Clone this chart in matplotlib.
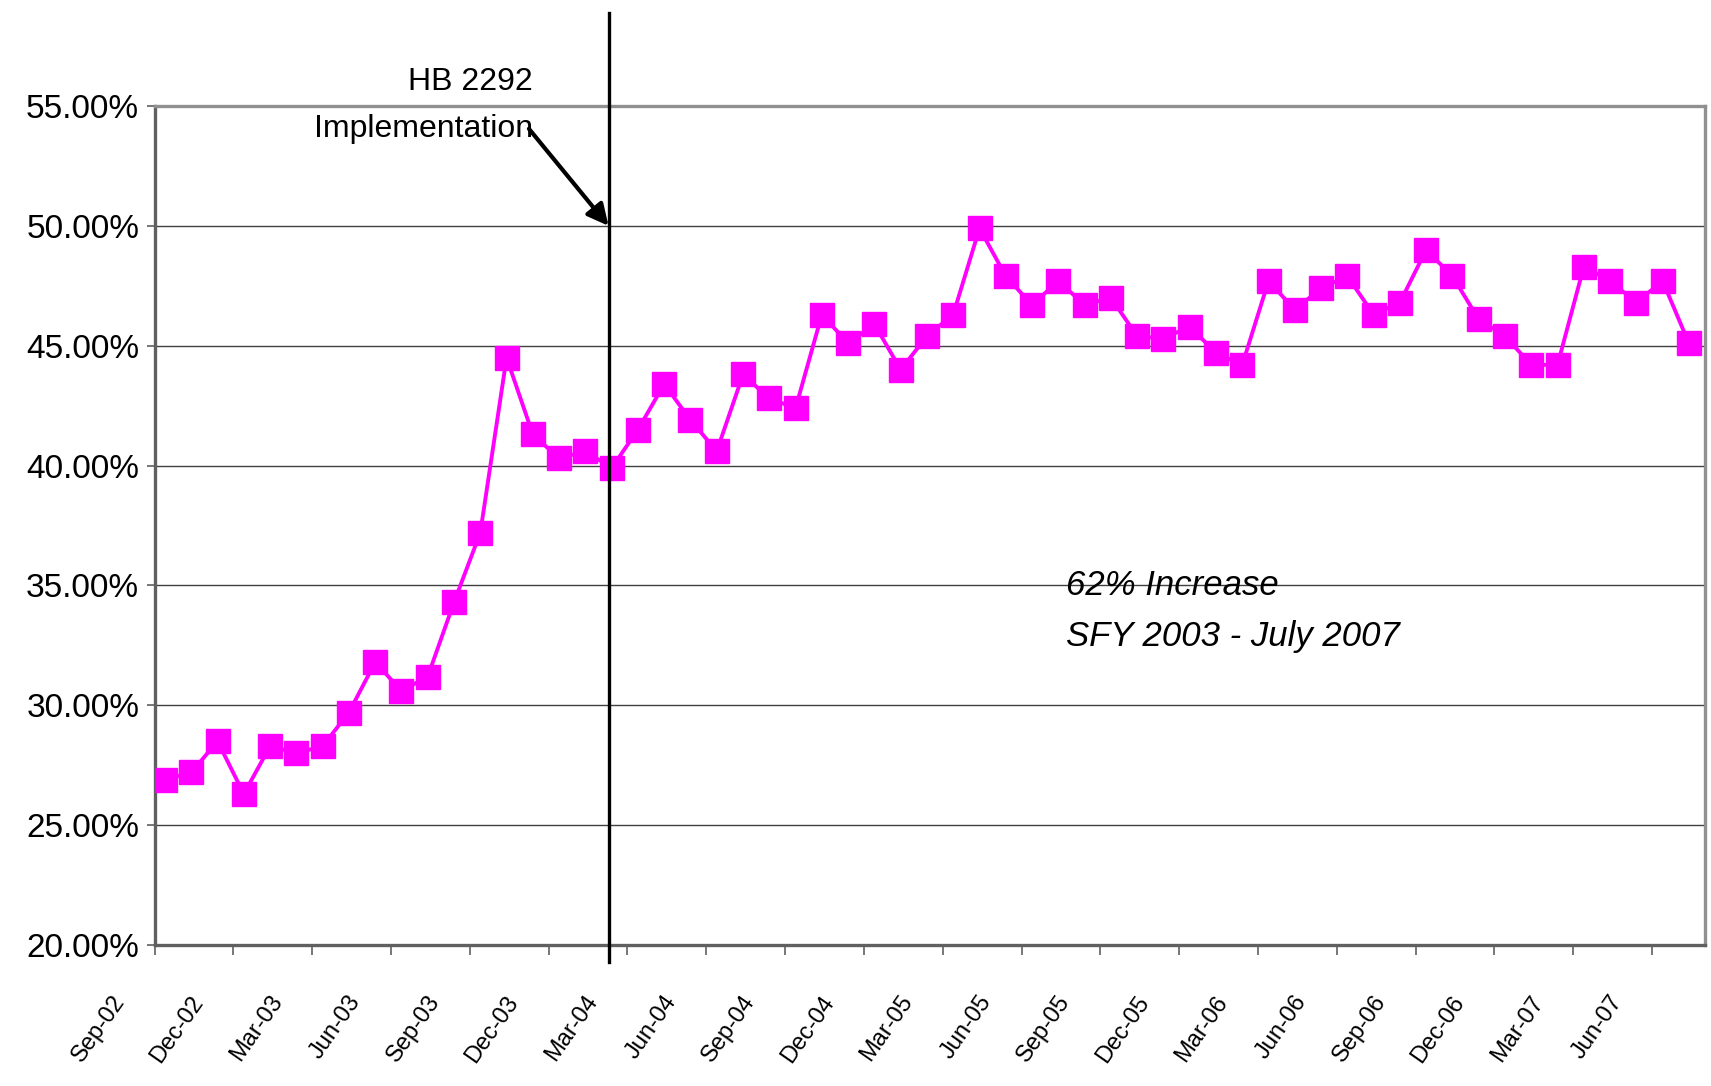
import numpy as np
import matplotlib
matplotlib.use("Agg")
import matplotlib.pyplot as plt
from matplotlib.transforms import ScaledTranslation

plt.rcParams['font.family'] = ['Liberation Sans', 'DejaVu Sans']

# monthly rate, Sep 2002 - Jul 2007 (percent)
rates = [26.9, 27.2, 28.5, 26.3, 28.3, 28.0, 28.3, 29.7, 31.8, 30.6,
         31.2, 34.3, 37.2, 44.5, 41.3, 40.3, 40.6, 39.9, 41.5, 43.4,
         41.9, 40.6, 43.8, 42.8, 42.4, 46.3, 45.1, 45.9, 44.0, 45.4,
         46.3, 49.9, 47.9, 46.7, 47.7, 46.7, 47.0, 45.4, 45.3, 45.8,
         44.7, 44.2, 47.7, 46.5, 47.4, 47.9, 46.3, 46.8, 49.0, 47.9,
         46.1, 45.4, 44.2, 44.2, 48.3, 47.7, 46.8, 47.7, 45.1]

quarter_labels = ['Sep-02', 'Dec-02', 'Mar-03', 'Jun-03', 'Sep-03', 'Dec-03',
                  'Mar-04', 'Jun-04', 'Sep-04', 'Dec-04', 'Mar-05', 'Jun-05',
                  'Sep-05', 'Dec-05', 'Mar-06', 'Jun-06', 'Sep-06', 'Dec-06',
                  'Mar-07', 'Jun-07']

y_ticks = [20, 25, 30, 35, 40, 45, 50, 55]
hb2292_month = 17.88   # position of the HB 2292 line (between Jan-04 and Feb-04)

x = np.arange(1, len(rates) + 1)

fig = plt.figure(figsize=(17.11, 10.86), dpi=100)
ax = fig.add_axes([0.0903, 0.1298, 0.906, 0.7726])

ax.plot(x, rates, color='#FF00FF', lw=2.8, marker='s', markersize=17,
        markerfacecolor='#FF00FF', markeredgecolor='#FF00FF', zorder=3)

ax.set_xlim(0.6, 59.6)
ax.set_ylim(20, 55)

# y axis
ax.set_yticks(y_ticks)
ax.set_yticklabels(['%.2f%%' % v for v in y_ticks], fontsize=24)
ax.tick_params(axis='y', length=6, width=1.2, color='#606060', pad=5)
for v in y_ticks[1:-1]:
    ax.axhline(v, color='#404040', lw=1.0, zorder=1)

# x axis: boundary ticks every 3 months, labels every quarter
ax.set_xticks(np.arange(0.6, 59.0, 3))
ax.set_xticklabels([])
ax.tick_params(axis='x', which='major', length=7, width=1.2, color='#606060')
ax.set_xticks(x[::3], minor=True)
ax.set_xticklabels(quarter_labels, minor=True, rotation=55, ha='right',
                   va='center', rotation_mode='anchor', fontsize=17)
ax.tick_params(axis='x', which='minor', length=0, pad=38)
off = ScaledTranslation(-0.45, 0, fig.dpi_scale_trans)
for lab in ax.get_xticklabels(minor=True):
    lab.set_transform(lab.get_transform() + off)

for side in ['left', 'bottom']:
    ax.spines[side].set_color('#606060')
    ax.spines[side].set_linewidth(2.4)
for side in ['top', 'right']:
    ax.spines[side].set_color('#909090')
    ax.spines[side].set_linewidth(2.4)

# HB 2292 implementation marker
ax.plot([hb2292_month, hb2292_month], [19.3, 58.9], color='black', lw=2.4,
        clip_on=False, zorder=4)
ax.annotate('', xy=(hb2292_month, 50.0), xytext=(14.85, 54.05),
            arrowprops=dict(arrowstyle='-|>', color='black', lw=3.0,
                            mutation_scale=32, shrinkA=0, shrinkB=0),
            annotation_clip=False, zorder=5)
ax.text(15.0, 56.0, 'HB 2292', ha='right', va='center', fontsize=23)
ax.text(15.0, 54.05, 'Implementation', ha='right', va='center', fontsize=23)

ax.text(35.3, 35.0, '62% Increase', ha='left', va='center', fontsize=25,
        style='italic')
ax.text(35.3, 32.85, 'SFY 2003 - July 2007', ha='left', va='center',
        fontsize=25, style='italic')

fig.savefig('out.png', dpi=100)
